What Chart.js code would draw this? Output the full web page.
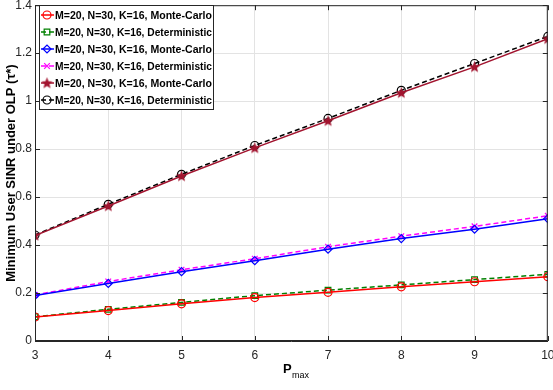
<!DOCTYPE html>
<html><head><meta charset="utf-8">
<script src="https://cdn.jsdelivr.net/npm/chart.js@4.4.0/dist/chart.umd.min.js"></script>
<style>html,body{margin:0;padding:0;background:#fff}canvas{display:block}</style>
</head><body>
<canvas id="c" width="553" height="390"></canvas>
<script>
const pmax = [3,4,5,6,7,8,9,10];
const yTicks = [0,0.2,0.4,0.6,0.8,1.0,1.2,1.4];
const bottomMC  = [0.100,0.127,0.155,0.181,0.203,0.226,0.247,0.268];
const bottomDet = [0.101,0.132,0.161,0.189,0.212,0.234,0.256,0.278];
const midMC     = [0.190,0.240,0.289,0.335,0.383,0.427,0.466,0.510];
const midDet    = [0.192,0.248,0.297,0.343,0.393,0.437,0.478,0.522];
const topMC     = [0.440,0.563,0.688,0.805,0.918,1.035,1.143,1.260];
const topDet    = [0.442,0.570,0.695,0.815,0.928,1.045,1.157,1.270];
const labels = [
 'M=20, N=30, K=16, Monte-Carlo','M=20, N=30, K=16, Deterministic',
 'M=20, N=30, K=16, Monte-Carlo','M=20, N=30, K=16, Deterministic',
 'M=20, N=30, K=16, Monte-Carlo','M=20, N=30, K=16, Deterministic'];
const xTitle = ['P','max'];
const yTitle = 'Minimum User SINR under OLP (\u03C4*)';

function starImg(color){
  const s=13, c=document.createElement('canvas'); c.width=s; c.height=s;
  const g=c.getContext('2d'); g.fillStyle=color; g.beginPath();
  const R=6, r=2.6, cx=6.5, cy=6.8;
  for(let i=0;i<10;i++){const a=-Math.PI/2+i*Math.PI/5; const rr=i%2?r:R;
    g.lineTo(cx+rr*Math.cos(a), cy+rr*Math.sin(a));}
  g.closePath(); g.fill(); return c;
}
const darkRed = '#a2142f';
function ds(label,data,color,style,dash,fill){
  return {label,data:pmax.map((x,i)=>({x,y:data[i]})),borderColor:color,backgroundColor:fill||'rgba(0,0,0,0)',
    pointStyle:style,pointRadius:4,pointBorderWidth:1.2,pointBorderColor:color,pointBackgroundColor:fill||'rgba(0,0,0,0)',
    borderWidth:1.5,borderDash:dash,tension:0,fill:false};
}
const datasets=[
 ds(labels[0],bottomMC,'#ff0000','circle',[]),
 ds(labels[1],bottomDet,'#008000','rect',[5,3]),
 ds(labels[2],midMC,'#0000ff','rectRot',[]),
 ds(labels[3],midDet,'#ff00ff','crossRot',[5,3]),
 ds(labels[4],topMC,darkRed,starImg(darkRed),[]),
 ds(labels[5],topDet,'#000000','circle',[5,3])
];
const axisCol='#262626';
const deco={id:'deco',afterDraw(chart){
  const {ctx,chartArea:a,scales:{x,y}}=chart;
  ctx.save();
  ctx.strokeStyle=axisCol; ctx.lineWidth=1;
  ctx.strokeRect(a.left+0.5,a.top+0.5,a.right-a.left-1,a.bottom-a.top-1);
  ctx.beginPath();
  pmax.forEach(v=>{const px=Math.round(x.getPixelForValue(v))+0.5;
    ctx.moveTo(px,a.bottom);ctx.lineTo(px,a.bottom-5);ctx.moveTo(px,a.top);ctx.lineTo(px,a.top+5);});
  yTicks.forEach(v=>{const py=Math.round(y.getPixelForValue(v))+0.5;
    ctx.moveTo(a.left,py);ctx.lineTo(a.left+5,py);ctx.moveTo(a.right,py);ctx.lineTo(a.right-5,py);});
  ctx.stroke();
  // x title
  ctx.fillStyle='#000'; ctx.textBaseline='alphabetic';
  ctx.font='bold 13px "Liberation Sans", Arial, sans-serif';
  ctx.fillText(xTitle[0],283,373);
  ctx.font='9px "Liberation Sans", Arial, sans-serif';
  ctx.fillText(xTitle[1],292,378);
  // legend
  const L=39,T=5,W=174,H=104;
  ctx.fillStyle='#fff'; ctx.fillRect(L,T,W,H);
  ctx.strokeStyle=axisCol; ctx.strokeRect(L+0.5,T+0.5,W,H);
  chart.data.datasets.forEach((d,i)=>{
    const yy=T+10+i*17;
    ctx.save(); ctx.strokeStyle=d.borderColor; ctx.lineWidth=1.5; ctx.setLineDash(d.borderDash);
    ctx.beginPath(); ctx.moveTo(L+2,yy); ctx.lineTo(L+15,yy); ctx.stroke(); ctx.restore();
    ctx.save(); ctx.strokeStyle=d.borderColor; ctx.fillStyle=d.pointBackgroundColor; ctx.lineWidth=1.2;
    Chart.helpers.drawPoint(ctx,{pointStyle:d.pointStyle,radius:4,borderWidth:1.2},L+8,yy); ctx.restore();
    ctx.fillStyle='#000'; ctx.font='bold 11.5px "Liberation Sans", Arial, sans-serif'; ctx.textBaseline='middle';
    ctx.fillText(d.label,L+16,yy+1,157);
  });
  ctx.restore();
}};
new Chart(document.getElementById('c'),{
  type:'line',
  data:{datasets},
  options:{
    responsive:false,animation:false,
    layout:{padding:{top:2,right:3,left:0,bottom:0}},
    plugins:{legend:{display:false},tooltip:{enabled:false}},
    scales:{
      x:{type:'linear',min:3,max:10,
        afterFit(s){s.height=49;s.paddingLeft=0;s.paddingRight=0;},
        ticks:{stepSize:1,padding:7,color:axisCol,font:{size:12,family:'"Liberation Sans", Arial, sans-serif'},maxRotation:0},
        grid:{color:'#e3e3e3',drawTicks:false},border:{color:axisCol}},
      y:{type:'linear',min:0,max:1.4,
        afterFit(s){s.width=35;s.paddingTop=0;s.paddingBottom=0;},
        ticks:{stepSize:0.2,padding:3,color:axisCol,font:{size:12,family:'"Liberation Sans", Arial, sans-serif'},
          callback:v=>{const r=Math.round(v*10)/10;return r===0?'0':(Number.isInteger(r)?String(r):r.toFixed(1));}},
        title:{display:true,text:yTitle,color:'#000',padding:{top:4,bottom:0},font:{size:13,weight:'bold',family:'"Liberation Sans", Arial, sans-serif'}},
        grid:{color:'#e3e3e3',drawTicks:false},border:{color:axisCol}}
    }
  },
  plugins:[deco]
});
</script>
</body></html>
